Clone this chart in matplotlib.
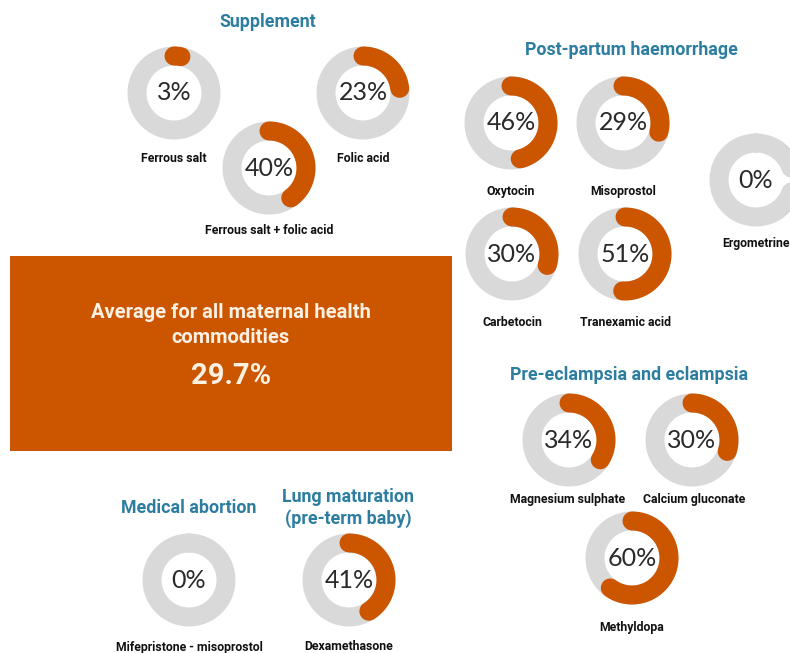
import numpy as np
import matplotlib
matplotlib.use("Agg")
import matplotlib.pyplot as plt
from matplotlib.patches import Rectangle

# ---- data ----
commodities = ["Ferrous salt", "Folic acid", "Ferrous salt + folic acid",
               "Oxytocin", "Misoprostol", "Ergometrine", "Carbetocin", "Tranexamic acid",
               "Magnesium sulphate", "Calcium gluconate", "Methyldopa",
               "Mifepristone - misoprostol", "Dexamethasone"]
values = [3, 23, 40, 46, 29, 0, 30, 51, 34, 30, 60, 0, 41]
group_titles = ["Supplement", "Post-partum haemorrhage", "Pre-eclampsia and eclampsia",
                "Medical abortion", "Lung maturation\n(pre-term baby)"]
average_label = "Average for all maternal health\ncommodities"
average_value = 29.7

# ---- layout (pixel positions) ----
W, H = 790, 653
donut_centers = [(174, 93), (363, 93), (269, 168),
                 (511, 123), (623, 123), (756, 180), (512, 254), (625, 254),
                 (569, 440), (692, 440), (632, 558),
                 (189, 580), (349, 580)]
label_pos = [(174, 158), (363, 158), (269, 230),
             (511, 191), (623, 191), (756, 243), (512, 323), (625, 323),
             (568, 500), (694, 500), (632, 627),
             (189, 647), (349, 647)]
title_pos = [(268, 22), (631, 50), (629, 375), (189, 508), (348, 508)]

ORANGE = "#CC5500"
GREY = "#D9D9D9"
TEAL = "#2C7DA0"

fig = plt.figure(figsize=(W / 100, H / 100), dpi=100)
fig.patch.set_facecolor("white")
ax = fig.add_axes([0, 0, 1, 1])
ax.set_xlim(0, W)
ax.set_ylim(H, 0)
ax.axis("off")

# average box
ax.add_patch(Rectangle((10, 256), 442, 195, facecolor=ORANGE, edgecolor="none"))
ax.text(231, 325, average_label, ha="center", va="center", fontsize=14.5,
        fontweight="bold", family="Roboto", color="#FDF1E4", linespacing=1.45)
ax.text(231, 376, f"{average_value:.1f}%", ha="center", va="center", fontsize=21,
        fontweight="bold", family="Roboto", color="#FDF1E4")

for t, (x, y) in zip(group_titles, title_pos):
    ax.text(x, y, t, ha="center", va="center", fontsize=12.8, fontweight="bold",
            family="Roboto", color=TEAL, linespacing=1.25)

R = 50  # half-size of donut axes, px
ring_r = 0.74
lw = 19 * 0.72
for name, v, (cx, cy), (lx, ly) in zip(commodities, values, donut_centers, label_pos):
    pax = fig.add_axes([(cx - R) / W, 1 - (cy + R) / H, 2 * R / W, 2 * R / H],
                       projection="polar")
    pax.set_theta_zero_location("N")
    pax.set_theta_direction(-1)
    pax.set_ylim(0, 1)
    pax.set_axis_off()
    th = np.linspace(0, 2 * np.pi, 360)
    pax.plot(th, np.full_like(th, ring_r), color=GREY, lw=lw, solid_capstyle="round",
             clip_on=False)
    if v > 0:
        th2 = np.linspace(0, 2 * np.pi * v / 100, 200)
        pax.plot(th2, np.full_like(th2, ring_r), color=ORANGE, lw=lw,
                 solid_capstyle="round", clip_on=False)
    pax.text(0, 0, f"{v}%", ha="center", va="center", fontsize=18,
             family="Lato", fontweight="normal", color="#2a2a2a")
    ax.text(lx, ly, name, ha="center", va="center", fontsize=8.8, fontweight="bold",
            family="Roboto", color="#111111")

fig.savefig("out.png", dpi=100)
